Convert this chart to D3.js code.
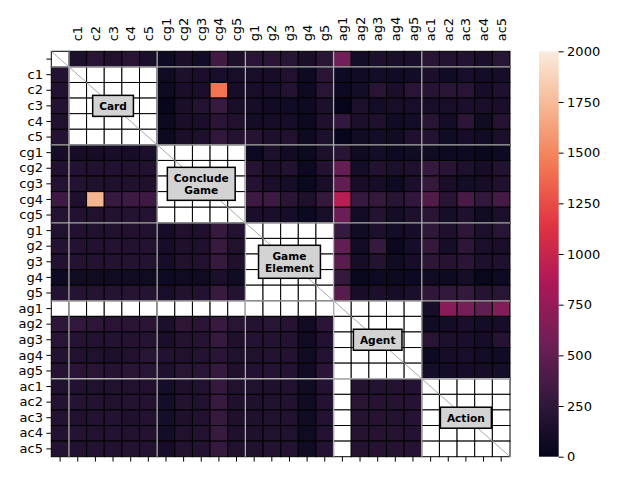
<!DOCTYPE html>
<html>
<head>
<meta charset="utf-8">
<script src="https://cdn.jsdelivr.net/npm/d3@7"></script>
<style>
  body { margin: 0; background: #fff; }
  text { font-family: "DejaVu Sans", sans-serif; }
</style>
</head>
<body>
<svg id="chart" width="640" height="480"></svg>
<script>
const LABELS = ["", "c1", "c2", "c3", "c4", "c5", "cg1", "cg2", "cg3", "cg4", "cg5",
  "g1", "g2", "g3", "g4", "g5", "ag1", "ag2", "ag3", "ag4", "ag5", "ac1", "ac2", "ac3", "ac4", "ac5"]

// group start index and box label
const GROUP_START = [1, 6, 11, 16, 21]
const GROUP_NAMES = [["Card"], ["Conclude", "Game"], ["Game", "Element"], ["Agent"], ["Action"]]

const CBAR_TICKS = [0, 250, 500, 750, 1000, 1250, 1500, 1750, 2000]

// null = masked cell (drawn white)
const _ = null
const VALUES = [
  [_, 150, 215, 170, 220, 140, 70, 130, 95, 340, 150, 220, 225, 210, 135, 225, 580, 100, 150, 130, 130, 220, 190, 180, 130, 210],
  [185, _, _, _, _, _, 75, 150, 130, 125, 125, 125, 115, 170, 70, 210, 70, 85, 100, 85, 95, 145, 85, 125, 105, 115],
  [175, _, _, _, _, _, 65, 130, 130, 1420, 115, 125, 125, 190, 70, 210, 60, 100, 210, 135, 220, 205, 210, 215, 115, 155],
  [185, _, _, _, _, _, 20, 130, 190, 300, 125, 115, 90, 85, 70, 150, 12, 150, 100, 125, 125, 125, 125, 140, 135, 135],
  [165, _, _, _, _, _, 55, 135, 130, 220, 170, 105, 115, 115, 55, 155, 275, 140, 160, 85, 105, 210, 100, 235, 80, 200],
  [180, _, _, _, _, _, 55, 135, 150, 260, 190, 200, 150, 170, 65, 150, 15, 80, 100, 80, 160, 180, 80, 115, 90, 140],
  [115, 115, 115, 125, 115, 140, _, _, _, _, _, 60, 150, 90, 50, 150, 215, 75, 100, 70, 80, 80, 65, 70, 40, 70],
  [175, 185, 175, 175, 165, 175, _, _, _, _, _, 200, 140, 180, 60, 190, 520, 100, 190, 150, 160, 290, 220, 160, 110, 190],
  [185, 180, 165, 160, 165, 160, _, _, _, _, _, 190, 130, 110, 45, 125, 500, 120, 120, 70, 140, 280, 130, 100, 110, 170],
  [320, 160, 1720, 300, 320, 330, _, _, _, _, _, 320, 320, 230, 160, 280, 920, 290, 280, 210, 260, 420, 215, 380, 270, 360],
  [180, 175, 165, 175, 190, 190, _, _, _, _, _, 130, 130, 115, 60, 125, 540, 95, 190, 105, 150, 215, 110, 160, 80, 145],
  [165, 170, 165, 165, 170, 165, 115, 170, 160, 290, 185, _, _, _, _, _, 290, 80, 150, 100, 120, 250, 160, 240, 150, 210],
  [185, 185, 175, 190, 175, 185, 115, 160, 160, 300, 165, _, _, _, _, _, 500, 95, 290, 45, 120, 280, 110, 240, 140, 135],
  [175, 180, 185, 185, 185, 185, 115, 170, 170, 290, 160, _, _, _, _, _, 460, 110, 190, 80, 120, 240, 200, 230, 150, 160],
  [70, 80, 80, 80, 80, 75, 70, 75, 75, 140, 85, _, _, _, _, _, 280, 40, 70, 55, 60, 80, 70, 110, 35, 70],
  [190, 200, 200, 195, 205, 195, 125, 175, 175, 300, 185, _, _, _, _, _, 440, 120, 140, 120, 140, 250, 260, 280, 200, 210],
  [_, _, _, _, _, _, _, _, _, _, _, _, _, _, _, _, _, _, _, _, _, 110, 680, 600, 500, 660],
  [240, 260, 240, 220, 230, 220, 140, 240, 220, 300, 210, 190, 210, 200, 90, 225, _, _, _, _, _, 80, 100, 130, 100, 120],
  [210, 200, 180, 190, 180, 200, 130, 180, 200, 290, 160, 190, 180, 190, 90, 175, _, _, _, _, _, 220, 150, 130, 115, 200],
  [180, 170, 165, 150, 170, 210, 175, 170, 190, 230, 165, 165, 180, 180, 80, 190, _, _, _, _, _, 70, 120, 125, 100, 85],
  [200, 220, 210, 200, 220, 210, 160, 210, 210, 280, 160, 175, 200, 180, 90, 225, _, _, _, _, _, 110, 100, 120, 120, 110],
  [165, 175, 165, 165, 170, 170, 110, 160, 165, 280, 165, 165, 160, 170, 80, 190, _, 180, 190, 190, 190, _, _, _, _, _],
  [180, 195, 180, 165, 190, 190, 110, 180, 165, 300, 160, 160, 165, 175, 80, 180, _, 220, 200, 200, 200, _, _, _, _, _],
  [180, 170, 180, 180, 160, 180, 110, 160, 175, 290, 160, 160, 165, 175, 80, 190, _, 200, 200, 190, 200, _, _, _, _, _],
  [180, 195, 180, 180, 165, 180, 105, 165, 180, 300, 160, 160, 165, 165, 75, 180, _, 200, 200, 200, 190, _, _, _, _, _],
  [185, 175, 185, 175, 190, 180, 115, 180, 185, 290, 165, 165, 180, 180, 80, 190, _, 200, 200, 200, 200, _, _, _, _, _]
]

// seaborn "rocket" approximated by a few samples
const ROCKET = ["#03051a", "#35193e", "#701f57", "#ad1759", "#e13342", "#f37651", "#f6b48f", "#faebdd"]

const PLOT = { left: 51.3, right: 510, top: 51.3, bottom: 456.7 }
const CBAR = { left: 539, width: 19.7 }

const svg = d3.select('#chart')

const x = d3.scaleBand().domain(d3.range(LABELS.length)).range([PLOT.left, PLOT.right])
const y = d3.scaleBand().domain(d3.range(LABELS.length)).range([PLOT.top, PLOT.bottom])

const color = d3.scaleLinear()
  .domain(ROCKET.map((c, i) => 2000 * i / (ROCKET.length - 1)))
  .range(ROCKET)
  .interpolate(d3.interpolateRgb)
  .clamp(true)

const cells = []
VALUES.forEach((row, r) => row.forEach((v, c) => cells.push({ r, c, v })))

svg.append('g')
  .selectAll('rect')
  .data(cells)
  .join('rect')
  .attr('x', d => x(d.c))
  .attr('y', d => y(d.r))
  .attr('width', x.bandwidth())
  .attr('height', y.bandwidth())
  .attr('fill', d => d.v === null ? '#ffffff' : color(d.v))
  .attr('stroke', '#000')
  .attr('stroke-width', 1)

// diagonal
svg.append('line')
  .attr('x1', PLOT.left).attr('y1', PLOT.top)
  .attr('x2', PLOT.right).attr('y2', PLOT.bottom)
  .attr('stroke', '#a8a8a8').attr('stroke-width', 1)

// group separators
const sep = svg.append('g').attr('stroke', '#b0b0b0').attr('stroke-width', 1.3)
GROUP_START.forEach(i => {
  sep.append('line').attr('x1', x(i)).attr('x2', x(i)).attr('y1', PLOT.top).attr('y2', PLOT.bottom)
  sep.append('line').attr('y1', y(i)).attr('y2', y(i)).attr('x1', PLOT.left).attr('x2', PLOT.right)
})

// group label boxes
GROUP_START.forEach((s, gi) => {
  const cx = x(s) + x.bandwidth() * 2.5
  const cy = y(s) + y.bandwidth() * 2.5
  const lines = GROUP_NAMES[gi]
  const g = svg.append('g')
  const rect = g.append('rect')
  const t = g.append('text')
    .attr('text-anchor', 'middle')
    .attr('font-size', 10.6)
    .attr('font-weight', 'bold')
    .attr('fill', '#000')
  const lh = 12
  lines.forEach((ln, i) => {
    t.append('tspan')
      .attr('x', cx)
      .attr('y', cy + (i - (lines.length - 1) / 2) * lh)
      .attr('dy', '0.36em')
      .text(ln)
  })
  const bb = t.node().getBBox()
  const w = bb.width + 13
  const h = lines.length * lh + 9
  rect.attr('x', cx - w / 2).attr('y', cy - h / 2)
    .attr('width', w).attr('height', h)
    .attr('fill', '#d3d3d3').attr('stroke', '#000').attr('stroke-width', 1.5)
})

// axes
const fmt = i => LABELS[i]

const axLeft = svg.append('g')
  .attr('transform', `translate(${PLOT.left},0)`)
  .call(d3.axisLeft(y).tickFormat(fmt).tickSize(4.9).tickPadding(3.5))
axLeft.select('.domain').remove()
axLeft.selectAll('text').attr('font-size', 13).attr('font-family', 'DejaVu Sans')

const axTop = svg.append('g')
  .attr('transform', `translate(0,${PLOT.top})`)
  .call(d3.axisTop(x).tickFormat(fmt).tickSize(0).tickPadding(0))
axTop.select('.domain').remove()
axTop.selectAll('text')
  .attr('font-size', 13).attr('font-family', 'DejaVu Sans')
  .attr('transform', 'rotate(-90)')
  .attr('text-anchor', 'start')
  .attr('x', 10)
  .attr('y', 0)
  .attr('dy', '0.35em')

const axBottom = svg.append('g')
  .attr('transform', `translate(0,${PLOT.bottom})`)
  .call(d3.axisBottom(x).tickFormat('').tickSize(4.9))
axBottom.select('.domain').remove()

// colorbar
const defs = svg.append('defs')
const grad = defs.append('linearGradient')
  .attr('id', 'cbar').attr('x1', 0).attr('y1', 1).attr('x2', 0).attr('y2', 0)
d3.range(0, 2001, 50).forEach(v => {
  grad.append('stop').attr('offset', v / 2000).attr('stop-color', color(v))
})
svg.append('rect')
  .attr('x', CBAR.left).attr('y', PLOT.top)
  .attr('width', CBAR.width).attr('height', PLOT.bottom - PLOT.top)
  .attr('fill', 'url(#cbar)')

const cScale = d3.scaleLinear().domain([0, 2000]).range([PLOT.bottom, PLOT.top])
const axCbar = svg.append('g')
  .attr('transform', `translate(${CBAR.left + CBAR.width},0)`)
  .call(d3.axisRight(cScale).tickValues(CBAR_TICKS).tickFormat(d3.format('d')).tickSize(4.9).tickPadding(3.5))
axCbar.select('.domain').remove()
axCbar.selectAll('text').attr('font-size', 13).attr('font-family', 'DejaVu Sans')
</script>
</body>
</html>
